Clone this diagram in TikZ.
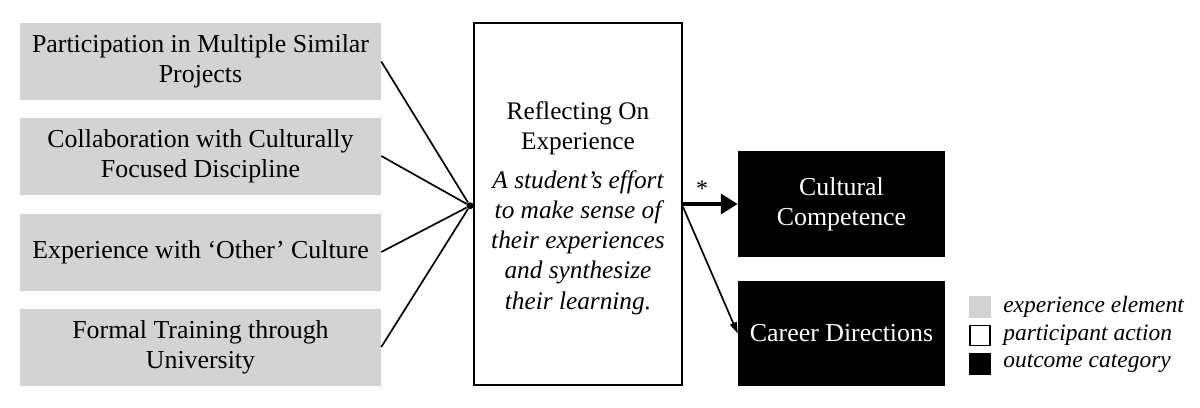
\documentclass[tikz,border=0pt]{standalone}
\usepackage{fontspec}
\setmainfont{Liberation Serif}
\usetikzlibrary{arrows.meta}

\definecolor{expgray}{RGB}{211,211,211}

\tikzset{
  expbox/.style={fill=expgray,minimum width=9.025cm,minimum height=1.925cm,align=center,inner sep=0pt,
    font=\fontsize{18.4}{21.5}\selectfont},
  actbox/.style={draw=black,line width=1.4pt,minimum width=5.2cm,minimum height=9.05cm,align=center,inner sep=0pt,
    font=\fontsize{18}{21.5}\selectfont},
  outbox/.style={fill=black,text=white,minimum width=5.175cm,minimum height=2.64cm,align=center,inner sep=0pt,
    font=\fontsize{18.4}{21.5}\selectfont},
  keybox/.style={minimum size=0.55cm,inner sep=0pt},
  keytext/.style={anchor=west,inner sep=0pt,font=\fontsize{16.7}{19}\selectfont\itshape},
  conn/.style={line width=1.2pt},
}

\begin{document}
\begin{tikzpicture}
\useasboundingbox (0,0) rectangle (30,10.175);

% experience elements
\node[expbox] (exp1) at (5.0125,8.6375) {Participation in Multiple Similar\\Projects};
\node[expbox] (exp2) at (5.0125,6.275)  {Collaboration with Culturally\\Focused Discipline};
\node[expbox] (exp3) at (5.0125,3.875)  {Experience with `Other' Culture};
\node[expbox] (exp4) at (5.0125,1.5)    {Formal Training through\\University};

% participant action
\node[actbox] (refl) at (14.45,5.075) {};
\node[align=center,inner sep=0pt,font=\fontsize{18}{21.5}\selectfont] (refltxt) at ([yshift=-0.1cm]refl.center) {Reflecting On\\Experience\\[6pt]
  \itshape A student's effort\\\itshape to make sense of\\\itshape their experiences\\\itshape and synthesize\\\itshape their learning.};

% outcomes
\node[outbox] (cc) at (21.0375,5.075)  {Cultural\\Competence};
\node[outbox] (cd) at (21.0375,1.8375) {Career Directions};

% converging lines
\node[circle,fill=black,inner sep=0pt,minimum size=5pt] (jn) at (11.75,5.03) {};
\foreach \i in {1,...,4}
  \draw[conn] (exp\i.east) -- (jn);

\draw[line width=3.5pt,-{Triangle[length=12pt,width=14pt]}] (refl.east) -- (cc.west) node[pos=0.35,above=0pt,font=\fontsize{17}{20}\selectfont] (star) {*};
\draw[conn,-{Triangle[length=8pt,width=5pt]}] ([yshift=-2pt]refl.east) -- (cd.west);

% legend
\node[keybox,fill=expgray] (k1) at (24.5,2.5) {};
\node[keybox,draw=black,line width=1.2pt,minimum size=0.5cm] (k2) at (24.5,1.7875) {};
\node[keybox,fill=black] (k3) at (24.5,1.0875) {};
\node[keytext] (t1) at (25.075,2.5)    {experience element};
\node[keytext] (t2) at (25.075,1.7875) {participant action};
\node[keytext] (t3) at (25.075,1.0875) {outcome category};
\end{tikzpicture}
\end{document}
